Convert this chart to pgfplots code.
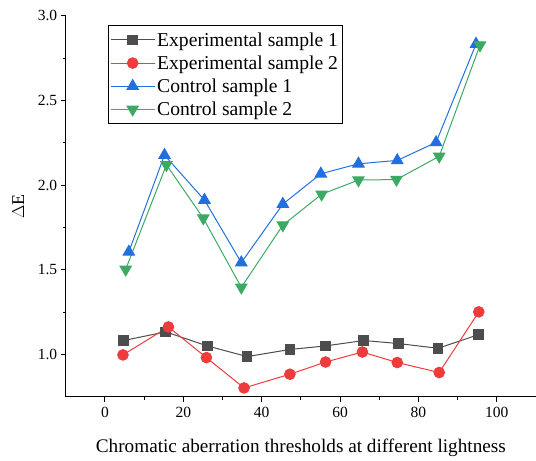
\documentclass[border=0pt]{standalone}
\usepackage{pgfplots}
\pgfplotsset{compat=1.18}
\usepackage{fontspec}
\setmainfont{Liberation Serif}

\definecolor{expone}{HTML}{4D4D4D}
\definecolor{exptwo}{HTML}{EE3B3B}
\definecolor{ctrlone}{HTML}{2270E0}
\definecolor{ctrltwo}{HTML}{3CAA64}

\begin{document}
\begin{tikzpicture}[x=1pt,y=1pt]
\begin{axis}[
  name=ax,
  scale only axis,
  width=470pt, height=381pt,
  xmin=-10, xmax=110,
  ymin=0.75, ymax=3.0,
  axis x line*=bottom,
  axis y line*=left,
  axis line style={line width=1pt},
  tick align=outside,
  tick style={line width=0.9pt, black},
  major tick length=5pt,
  minor tick length=3pt,
  xtick={0,20,...,100},
  ytick={1.0,1.5,...,3.0},
  minor x tick num=1,
  minor y tick num=1,
  tick label style={font=\fontsize{15.5}{17}\selectfont},
  xticklabel style={yshift=-2pt},
  /pgf/number format/assume math mode=true,
  yticklabel style={/pgf/number format/fixed, /pgf/number format/fixed zerofill, /pgf/number format/precision=1},
  xlabel={Chromatic aberration thresholds at different lightness},
  ylabel={$\Delta$E},
  xlabel style={font=\fontsize{19.2}{22}\selectfont, at={(axis description cs:0.5,0)}, anchor=north, yshift=-38pt},
  ylabel style={font=\fontsize{18}{21}\selectfont, at={(axis description cs:0,0.5)}, anchor=south, yshift=38pt},
  legend style={at={(rel axis cs:0.0894,0.9756)}, anchor=north west,
    draw=black, line width=0.8pt, fill=white,
    font=\fontsize{19.6}{22}\selectfont,
    row sep=4pt, inner xsep=2pt, inner ysep=5pt},
  legend cell align=left,
  legend image code/.code={
    \draw[mark repeat=2,mark phase=2] plot coordinates {(0pt,0pt) (22pt,0pt) (44pt,0pt)};
  },
  every axis plot/.append style={line width=1pt},
]
\addplot[color=expone, mark=square*, mark size=4.8pt, mark options={solid, fill=expone, draw=expone}]
  coordinates {(4.8,1.083) (15.5,1.134) (26.1,1.051) (36.3,0.988) (47.2,1.030) (56.3,1.051) (66.0,1.083) (74.9,1.065) (85.0,1.037) (95.4,1.118)};
\addlegendentry{Experimental sample 1}
\addplot[color=exptwo, mark=*, mark size=5.3pt, mark options={solid, fill=exptwo, draw=exptwo}]
  coordinates {(4.6,0.998) (16.2,1.163) (25.9,0.982) (35.5,0.803) (47.2,0.884) (56.3,0.956) (65.7,1.015) (74.6,0.953) (85.3,0.894) (95.4,1.252)};
\addlegendentry{Experimental sample 2}
\addplot[color=ctrlone, mark=triangle*, mark size=6.5pt, mark options={solid, fill=ctrlone, draw=ctrlone}]
  coordinates {(6.1,1.606) (15.2,2.177) (25.4,1.912) (34.8,1.543) (45.4,1.888) (55.1,2.067) (64.7,2.126) (74.6,2.146) (84.5,2.252) (94.7,2.833)};
\addlegendentry{Control sample 1}
\addplot[color=ctrltwo, mark=triangle*, mark size=6.5pt, mark options={solid, rotate=180, fill=ctrltwo, draw=ctrltwo}]
  coordinates {(5.3,1.503) (15.7,2.120) (25.1,1.805) (34.8,1.397) (45.4,1.764) (55.3,1.946) (64.7,2.030) (74.4,2.033) (85.3,2.170) (95.7,2.826)};
\addlegendentry{Control sample 2}
\end{axis}
\pgfresetboundingbox
\path ([shift={(-65.7pt,-63.3pt)}]ax.south west) rectangle ([shift={(0pt,15.7pt)}]ax.north east);
\end{tikzpicture}
\end{document}
